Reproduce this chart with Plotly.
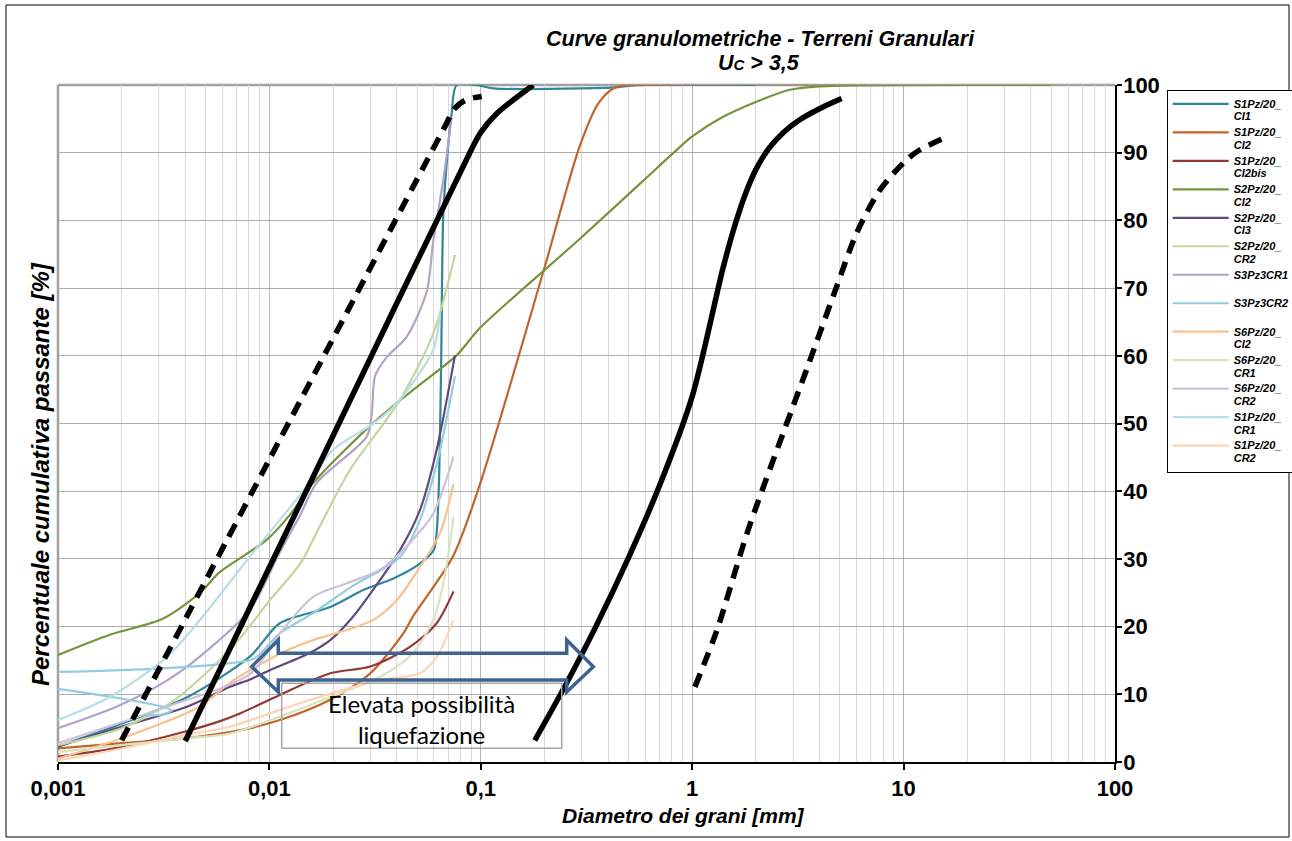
import plotly.graph_objects as go

# ---------------- data ----------------
names = ["S1Pz/20_CI1", "S1Pz/20_CI2", "S1Pz/20_CI2bis", "S2Pz/20_CI2", "S2Pz/20_CI3",
         "S2Pz/20_CR2", "S3Pz3CR1", "S3Pz3CR2", "S6Pz/20_CI2", "S6Pz/20_CR1",
         "S6Pz/20_CR2", "S1Pz/20_CR1", "S1Pz/20_CR2"]
colors = ["#31859C", "#C0652B", "#953735", "#77933C", "#604A7B",
          "#C3D69B", "#B3A2C7", "#93CDDD", "#FAC090", "#D7E4BD",
          "#CCC1DA", "#B7DEE8", "#FCD5B5"]

s1_ci1_d = [0.001, 0.00176, 0.0041, 0.0081, 0.0112, 0.0194, 0.0278, 0.0386, 0.0515, 0.0599, 0.0618,
            0.0635, 0.0650, 0.0665, 0.0701, 0.0728, 0.0769, 0.095, 0.115, 0.3, 0.45, 0.55, 2.0]
s1_ci1_p = [2.3, 5.0, 9.6, 15.6, 20.5, 22.9, 25.4, 27.1, 29.3, 31.3, 33.8,
            42.0, 60.0, 81.0, 91.0, 95.8, 100.0, 100.0, 99.5, 99.5, 99.7, 100.0, 100.0]

s1_ci2_d = [0.001, 0.002, 0.004, 0.0073, 0.0112, 0.0194, 0.030, 0.043, 0.0478, 0.0737, 0.099,
            0.2, 0.294, 0.36, 0.43, 0.6, 10.0]
s1_ci2_p = [2.0, 2.8, 3.5, 4.7, 6.2, 9.2, 13.1, 19.0, 21.5, 30.3, 41.0,
            73.0, 91.0, 97.3, 99.6, 100.0, 100.0]

s1_ci2bis_d = [0.001, 0.002, 0.004, 0.0058, 0.0073, 0.0112, 0.0194, 0.030, 0.0462, 0.0618, 0.0743]
s1_ci2bis_p = [0.8, 2.2, 4.5, 6.0, 7.2, 9.9, 13.1, 14.1, 17.0, 20.5, 25.2]

s2_ci2_d = [0.001, 0.00176, 0.00315, 0.0047, 0.0058, 0.0097, 0.0125, 0.0161, 0.031, 0.048, 0.077,
            0.099, 0.29, 0.57, 0.81, 1.0, 1.4, 2.0, 2.9, 4.0, 50.0]
s2_ci2_p = [15.8, 18.8, 21.2, 25.0, 28.0, 32.8, 36.5, 41.2, 50.1, 55.0, 60.1,
            64.1, 77.1, 85.5, 89.9, 92.4, 95.3, 97.5, 99.3, 99.8, 100.0]

s2_ci3_d = [0.001, 0.00176, 0.0041, 0.0065, 0.0081, 0.0101, 0.0155, 0.0194, 0.0249, 0.0334,
            0.0415, 0.0515, 0.0618, 0.0755]
s2_ci3_p = [2.3, 4.7, 8.2, 11.1, 12.2, 13.6, 16.1, 18.0, 21.5, 26.9, 31.3, 37.2, 46.1, 60.1]

s2_cr2_d = [0.001, 0.002, 0.0035, 0.0067, 0.0101, 0.014, 0.0173, 0.024, 0.0415, 0.0596, 0.0755]
s2_cr2_p = [2.5, 5.0, 9.0, 17.0, 24.0, 29.3, 34.8, 43.1, 53.5, 63.3, 74.9]

s3_cr1_d = [0.001, 0.0019, 0.0033, 0.0047, 0.0081, 0.0112, 0.014, 0.0167, 0.0289, 0.0305, 0.0316,
            0.0359, 0.0446, 0.0555, 0.0596, 0.0665, 0.0728]
s3_cr1_p = [5.0, 8.2, 12.1, 15.6, 22.5, 31.0, 36.5, 41.2, 48.1, 51.5, 57.0,
            59.8, 62.8, 69.5, 77.0, 86.0, 95.3]

s3_cr2_d = [0.001, 0.0018, 0.0025, 0.0031, 0.00345, 0.0031, 0.0026, None,
            0.001, 0.003, 0.0065, 0.0085, 0.0112, 0.0161, 0.0245, 0.0415, 0.0515, 0.0596, 0.0641, 0.0755]
s3_cr2_p = [10.8, 9.6, 8.8, 8.2, 7.6, 7.0, 6.9, None,
            13.3, 13.8, 14.6, 15.3, 19.0, 22.0, 25.9, 30.3, 35.7, 42.1, 46.0, 57.0]

s6_ci2_d = [0.001, 0.002, 0.0047, 0.0065, 0.0112, 0.0161, 0.0232, 0.031, 0.0401, 0.0515, 0.0641, 0.0743]
s6_ci2_p = [0.5, 3.5, 8.2, 11.7, 16.0, 18.0, 19.5, 21.0, 23.9, 28.8, 33.8, 41.1]

s6_cr1_d = [0.001, 0.002, 0.004, 0.0065, 0.0112, 0.0194, 0.0334, 0.0475, 0.0596, 0.0665, 0.0743]
s6_cr1_p = [1.5, 2.5, 3.5, 4.2, 6.7, 9.6, 12.6, 16.0, 21.0, 26.4, 36.2]

s6_cr2_d = [0.001, 0.0033, 0.0081, 0.0112, 0.0161, 0.0232, 0.0334, 0.0475, 0.0596, 0.0743]
s6_cr2_p = [2.8, 8.2, 13.0, 19.0, 24.4, 26.4, 28.4, 32.8, 36.7, 45.1]

s1_cr1_d = [0.001, 0.00176, 0.0033, 0.0047, 0.0084, 0.014, 0.020, 0.031, 0.0401, 0.0596, 0.0641]
s1_cr1_p = [6.2, 9.6, 15.6, 21.0, 31.0, 39.5, 46.1, 50.0, 53.0, 60.9, 66.3]

s1_cr2_d = [0.001, 0.002, 0.004, 0.0065, 0.0112, 0.0194, 0.0334, 0.0515, 0.0618, 0.0743]
s1_cr2_p = [0.2, 2.0, 4.0, 5.2, 7.7, 10.1, 12.1, 13.1, 15.5, 21.0]

series_d = [s1_ci1_d, s1_ci2_d, s1_ci2bis_d, s2_ci2_d, s2_ci3_d, s2_cr2_d, s3_cr1_d,
            s3_cr2_d, s6_ci2_d, s6_cr1_d, s6_cr2_d, s1_cr1_d, s1_cr2_d]
series_p = [s1_ci1_p, s1_ci2_p, s1_ci2bis_p, s2_ci2_p, s2_ci3_p, s2_cr2_p, s3_cr1_p,
            s3_cr2_p, s6_ci2_p, s6_cr1_p, s6_cr2_p, s1_cr1_p, s1_cr2_p]

# liquefaction boundary curves (black)
fine_solid_d = [0.004, 0.02, 0.09, 0.1, 0.119, 0.177]
fine_solid_p = [3.1, 48.2, 90.4, 93.0, 95.8, 100.0]
fine_dash_d = [0.002, 0.01, 0.068, 0.075, 0.085, 0.101]
fine_dash_p = [3.2, 44.7, 94.0, 96.5, 97.8, 98.3]
coarse_solid_d = [0.18, 0.25, 0.35, 0.5, 0.7, 1.0, 1.4, 1.6, 1.8, 2.0, 2.3, 2.7, 3.2, 4.0, 5.09]
coarse_solid_p = [3.2, 11.2, 20.0, 30.2, 40.8, 54.0, 73.0, 79.5, 84.2, 87.5, 90.6, 93.0, 94.8, 96.5, 98.0]
coarse_dash_d = [1.03, 1.31, 1.84, 3.47, 4.82, 5.99, 7.73, 10.3, 11.9, 15.4]
coarse_dash_p = [11.1, 19.5, 34.3, 57.9, 70.2, 78.1, 84.5, 88.9, 90.4, 92.1]

x_tickvals = [0.001, 0.01, 0.1, 1, 10, 100]
x_ticktext = ["0,001", "0,01", "0,1", "1", "10", "100"]

# ---------------- figure ----------------
fig = go.Figure()


def legend_label(n):
    if "_" in n:
        a, b = n.split("_", 1)
        txt = a + "_<br>" + b
    else:
        txt = n + "<br>\u00a0"
    return "<span style='font-size:11px'>" + txt + "</span>"


for n, c, d, p in zip(names, colors, series_d, series_p):
    fig.add_trace(go.Scatter(x=d, y=p, mode="lines", name=legend_label(n),
                             line=dict(color=c, width=2.2, shape="spline", smoothing=0.8),
                             hoverinfo="skip"))

for d, p, dash in [(fine_solid_d, fine_solid_p, "solid"), (fine_dash_d, fine_dash_p, "14px,9px"),
                   (coarse_solid_d, coarse_solid_p, "solid"), (coarse_dash_d, coarse_dash_p, "14px,9px")]:
    fig.add_trace(go.Scatter(x=d, y=p, mode="lines", showlegend=False, hoverinfo="skip",
                             line=dict(color="black", width=5.5, dash=dash, shape="spline", smoothing=0.8)))

L, R, T, B = 58, 177, 85, 79
W, H = 1292, 841
pw, ph = W - L - R, H - T - B


def px(xpix):
    return (xpix - L) / pw


def py(ypix):
    return (H - B - ypix) / ph


def pct(ypix):
    return (H - B - ypix) / ph * 100


fontfam = "Liberation Sans, Arial, sans-serif"

fig.update_layout(
    width=W, height=H,
    margin=dict(l=L, r=R, t=T, b=B, autoexpand=False),
    paper_bgcolor="white", plot_bgcolor="white",
    font=dict(family=fontfam, color="black"),
    hovermode=False,
    legend=dict(x=px(1166.7), y=py(90), xanchor="left", yanchor="top",
                bordercolor="black", borderwidth=1, bgcolor="white",
                font=dict(size=9.8, family=fontfam, weight="bold", style="italic", color="black"),
                valign="top", itemwidth=56, tracegroupgap=0),
    xaxis=dict(type="log", range=[-3, 2], tickmode="array", tickvals=x_tickvals, ticktext=x_ticktext,
               showgrid=True, gridcolor="#B4B4B4", gridwidth=1,
               minor=dict(dtick="D1", showgrid=True, gridcolor="#D9D9D9", gridwidth=1, ticks=""),
               ticks="outside", ticklen=6, tickcolor="black", tickwidth=1.5,
               showline=True, linecolor="black", linewidth=1.5,
               tickfont=dict(size=22, weight="bold", family=fontfam), zeroline=False),
    yaxis=dict(range=[0, 100], dtick=10, side="right", showgrid=True, gridcolor="#ABABAB", gridwidth=1,
               ticks="outside", ticklen=5, tickcolor="black", tickwidth=1.5,
               showline=True, linecolor="black", linewidth=1.5, ticklabelstandoff=-3,
               tickfont=dict(size=22, weight="bold", family=fontfam), zeroline=False),
)

shapes = [
    # grey left / top frame of plot area
    dict(type="line", xref="paper", yref="paper", x0=0, x1=0, y0=0, y1=1,
         line=dict(color="#A0A0A0", width=2.5), layer="between"),
    dict(type="line", xref="paper", yref="paper", x0=0, x1=1, y0=1, y1=1,
         line=dict(color="#A0A0A0", width=2.5), layer="between"),
    # outer chart frame
    dict(type="rect", xref="paper", yref="paper", x0=px(6), x1=px(1289), y0=py(837), y1=py(5),
         line=dict(color="black", width=1), fillcolor="rgba(0,0,0,0)", layer="above"),
    # text box
    dict(type="rect", xref="paper", yref="y", x0=px(281.7), x1=px(561.7), y0=pct(748.3), y1=pct(683.3),
         line=dict(color="#A6A6A6", width=1.5), fillcolor="rgba(0,0,0,0)", layer="above"),
]

# double block arrow
ax_l, ax_lb, ax_rb, ax_r = px(251.7), px(278.3), px(566.7), px(593.3)
ay_c, ay_ht, ay_hb, ay_st, ay_sb = pct(666.7), pct(640), pct(692), pct(653.3), pct(680)
path = (f"M {ax_l},{ay_c} L {ax_lb},{ay_ht} L {ax_lb},{ay_st} L {ax_rb},{ay_st} L {ax_rb},{ay_ht} "
        f"L {ax_r},{ay_c} L {ax_rb},{ay_hb} L {ax_rb},{ay_sb} L {ax_lb},{ay_sb} L {ax_lb},{ay_hb} Z")
shapes.append(dict(type="path", xref="paper", yref="y", path=path,
                   line=dict(color="#3F6391", width=3.5), fillcolor="rgba(0,0,0,0)", layer="above"))
fig.update_layout(shapes=shapes)

annotations = [
    dict(text="<b><i>Curve granulometriche - Terreni Granulari</i></b>", xref="paper", yref="paper",
         x=px(760), y=py(39), showarrow=False, xanchor="center", yanchor="middle",
         font=dict(size=21.5, family=fontfam)),
    dict(text="<b><i>U<span style='font-size:15px'>C</span> &gt; 3,5</i></b>", xref="paper", yref="paper",
         x=px(759), y=py(63), showarrow=False, xanchor="center", yanchor="middle",
         font=dict(size=21.5, family=fontfam)),
    dict(text="<b><i>Diametro dei grani [mm]</i></b>", xref="paper", yref="paper",
         x=px(683), y=py(815), showarrow=False, xanchor="center", yanchor="middle",
         font=dict(size=21, family=fontfam)),
    dict(text="<b><i>Percentuale cumulativa passante [%]</i></b>", xref="paper", yref="paper",
         x=px(40), y=py(474), showarrow=False, xanchor="center", yanchor="middle", textangle=-90,
         font=dict(size=24, family=fontfam)),
    dict(text="Elevata possibilità<br>liquefazione", xref="paper", yref="y",
         x=px(421.7), y=pct(719), showarrow=False, xanchor="center", yanchor="middle",
         font=dict(size=24, family="Lato, sans-serif", color="black")),
]
fig.update_layout(annotations=annotations)

fig.write_html("out.html")
